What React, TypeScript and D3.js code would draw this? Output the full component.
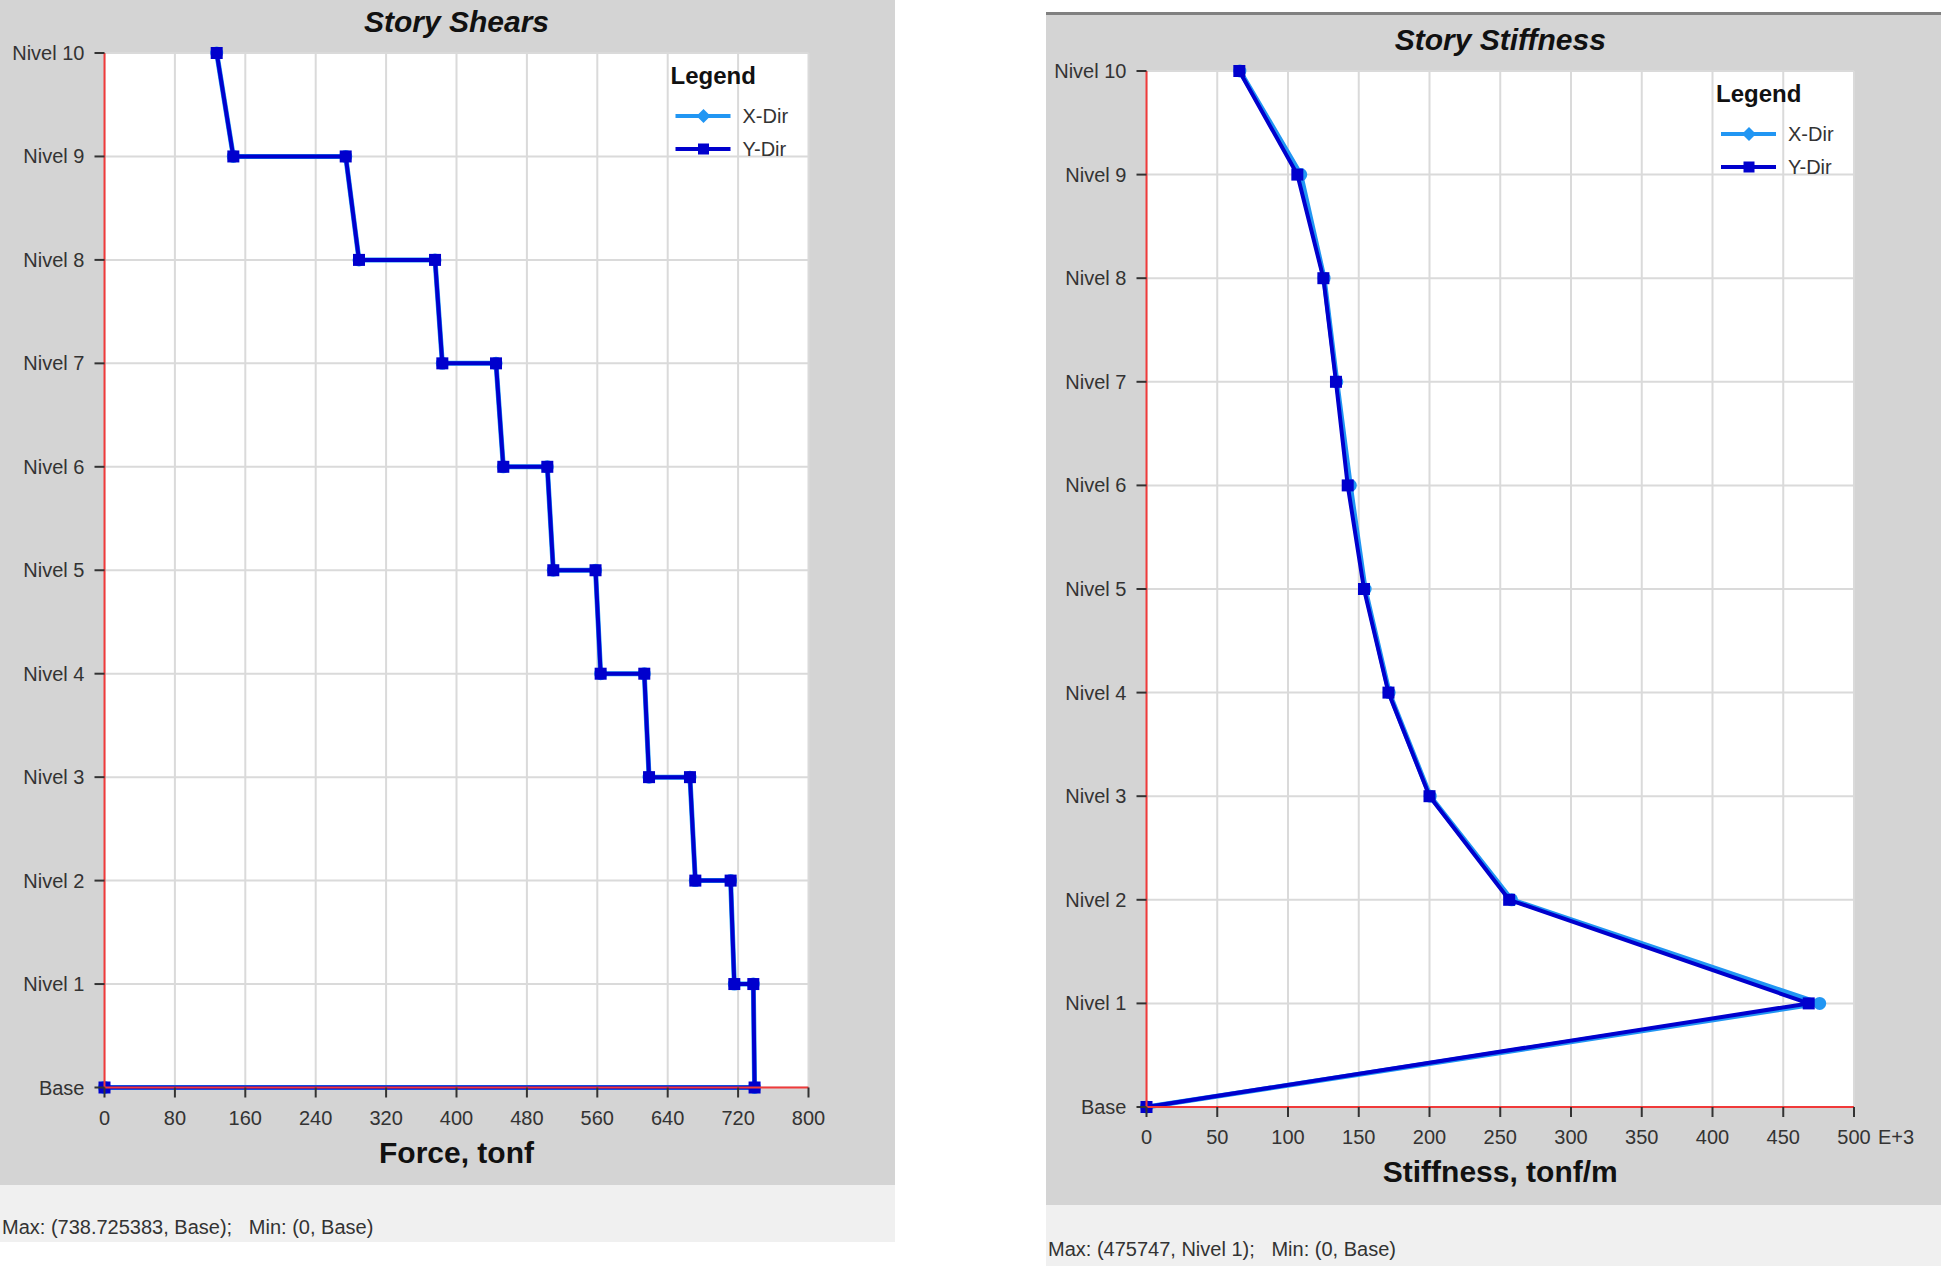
import React from "react";
import * as d3 from "d3";

// ---------- data ----------
const levels = ["Base", "Nivel 1", "Nivel 2", "Nivel 3", "Nivel 4", "Nivel 5", "Nivel 6", "Nivel 7", "Nivel 8", "Nivel 9", "Nivel 10"];

// Story shears: top/bottom of each story (tonf)
const shearPointLevels = [
  "Nivel 10", "Nivel 9", "Nivel 9", "Nivel 8", "Nivel 8", "Nivel 7", "Nivel 7", "Nivel 6", "Nivel 6",
  "Nivel 5", "Nivel 5", "Nivel 4", "Nivel 4", "Nivel 3", "Nivel 3", "Nivel 2", "Nivel 2",
  "Nivel 1", "Nivel 1", "Base", "Base",
];
const shearXDir = [127.5, 146.4, 274.1, 289.2, 375.6, 383.9, 444.9, 453.2, 503.2, 510.0, 558.0, 563.8, 613.4, 618.8, 665.3, 671.4, 711.5, 715.7, 737.3, 738.725, 0];
const shearYDir = [127.5, 146.4, 274.1, 289.2, 375.6, 383.9, 444.9, 453.2, 503.2, 510.0, 558.0, 563.8, 613.4, 618.8, 665.3, 671.4, 711.5, 715.7, 737.3, 738.725, 0];
const shearTicks = [0, 80, 160, 240, 320, 400, 480, 560, 640, 720, 800];

// Story stiffness (E+3 tonf/m)
const stiffPointLevels = ["Nivel 10", "Nivel 9", "Nivel 8", "Nivel 7", "Nivel 6", "Nivel 5", "Nivel 4", "Nivel 3", "Nivel 2", "Nivel 1", "Base"];
const stiffXDir = [66.0, 109.0, 125.5, 134.5, 144.0, 154.5, 171.5, 200.5, 258.0, 475.747, 0];
const stiffYDir = [65.6, 106.6, 125.0, 133.9, 142.2, 153.7, 171.0, 200.0, 256.3, 468.0, 0];
const stiffTicks = [0, 50, 100, 150, 200, 250, 300, 350, 400, 450, 500];

const seriesNames = ["X-Dir", "Y-Dir"];

// ---------- styling ----------
const FONT = "'Liberation Sans', Arial, sans-serif";
const PANEL = "#d4d4d4";
const STATUS = "#f0f0f0";
const GRID = "#dadada";
const RED = "#f03a3a";
const XCOL = "#2196f3";
const YCOL = "#0000cd";
const TXT = "#333";

type PanelProps = {
  px: number; py: number; pw: number; ph: number; border?: boolean;
  statusH: number; statusText: string;
  plot: { left: number; right: number; top: number; bottom: number };
  title: string; xTitle: string; ticks: number[]; domainMax: number; extraTick?: string;
  pointLevels: string[]; xDir: number[]; yDir: number[];
};

function Chart(p: PanelProps) {
  const x = d3.scaleLinear().domain([0, p.domainMax]).range([p.plot.left, p.plot.right]);
  const y = d3.scalePoint<string>().domain(levels).range([p.plot.bottom, p.plot.top]);
  const line = d3.line<[number, string]>().x((d) => x(d[0])).y((d) => y(d[1]) as number);
  const xPts: [number, string][] = p.xDir.map((v, i) => [v, p.pointLevels[i]]);
  const yPts: [number, string][] = p.yDir.map((v, i) => [v, p.pointLevels[i]]);
  const cx = (p.plot.left + p.plot.right) / 2;
  const lx = p.plot.right;
  const ly = p.plot.top;
  return (
    <g>
      <rect x={p.px} y={p.py} width={p.pw} height={p.ph} fill={PANEL} />
      {p.border && <rect x={p.px} y={p.py} width={p.pw} height={3} fill="#808080" />}
      <rect x={p.px} y={p.py + p.ph} width={p.pw} height={p.statusH} fill={STATUS} />
      <text x={p.px + 2} y={p.py + p.ph + p.statusH / 2 + 20} fontSize={20} fill={TXT} fontFamily={FONT} xmlSpace="preserve">{p.statusText}</text>
      <rect x={p.plot.left} y={p.plot.top} width={p.plot.right - p.plot.left} height={p.plot.bottom - p.plot.top} fill="#fff" />
      {p.ticks.map((t) => (
        <line key={"gx" + t} x1={x(t)} x2={x(t)} y1={p.plot.top} y2={p.plot.bottom} stroke={GRID} strokeWidth={2} />
      ))}
      {levels.map((l) => (
        <line key={"gy" + l} x1={p.plot.left} x2={p.plot.right} y1={y(l)} y2={y(l)} stroke={GRID} strokeWidth={2} />
      ))}
      <text x={cx} y={p.plot.top - 21} textAnchor="middle" fontSize={30} fontWeight="bold" fontStyle="italic" fill="#111" fontFamily={FONT}>{p.title}</text>
      {/* legend */}
      <text x={lx - 138} y={ly + 31} fontSize={24} fontWeight="bold" fill="#111" fontFamily={FONT}>Legend</text>
      {seriesNames.map((s, i) => {
        const yy = ly + 63 + i * 33;
        const col = i === 0 ? XCOL : YCOL;
        const mx = lx - 105;
        return (
          <g key={s}>
            <line x1={lx - 133} x2={lx - 78} y1={yy} y2={yy} stroke={col} strokeWidth={4} />
            {i === 0 ? (
              <path d={`M${mx},${yy - 7}L${mx + 7},${yy}L${mx},${yy + 7}L${mx - 7},${yy}Z`} fill={col} />
            ) : (
              <rect x={mx - 5.5} y={yy - 5.5} width={11} height={11} fill={col} />
            )}
            <text x={lx - 66} y={yy + 7} fontSize={20} fill={TXT} fontFamily={FONT}>{s}</text>
          </g>
        );
      })}
      {/* series */}
      <path d={line(xPts) || ""} fill="none" stroke={XCOL} strokeWidth={5} />
      {xPts.map((d, i) => (
        <circle key={"xm" + i} cx={x(d[0])} cy={y(d[1])} r={6.5} fill={XCOL} />
      ))}
      <path d={line(yPts) || ""} fill="none" stroke={YCOL} strokeWidth={4} />
      {yPts.map((d, i) => (
        <rect key={"ym" + i} x={x(d[0]) - 6} y={(y(d[1]) as number) - 6} width={12} height={12} fill={YCOL} />
      ))}
      {/* axes */}
      <line x1={p.plot.left} x2={p.plot.left} y1={p.plot.top} y2={p.plot.bottom} stroke={RED} strokeWidth={2} />
      <line x1={p.plot.left} x2={p.plot.right} y1={p.plot.bottom} y2={p.plot.bottom} stroke={RED} strokeWidth={2} />
      {levels.map((l) => (
        <g key={"yl" + l}>
          <line x1={p.plot.left - 10} x2={p.plot.left} y1={y(l)} y2={y(l)} stroke="#333" strokeWidth={2} />
          <text x={p.plot.left - 20} y={(y(l) as number) + 7} textAnchor="end" fontSize={20} fill={TXT} fontFamily={FONT}>{l}</text>
        </g>
      ))}
      {p.ticks.map((t) => (
        <g key={"xl" + t}>
          <line x1={x(t)} x2={x(t)} y1={p.plot.bottom} y2={p.plot.bottom + 10} stroke="#333" strokeWidth={2} />
          <text x={x(t)} y={p.plot.bottom + 37} textAnchor="middle" fontSize={20} fill={TXT} fontFamily={FONT}>{t}</text>
        </g>
      ))}
      {p.extraTick && (
        <text x={x(p.ticks[p.ticks.length - 1]) + 24} y={p.plot.bottom + 37} fontSize={20} fill={TXT} fontFamily={FONT}>{p.extraTick}</text>
      )}
      <text x={cx} y={p.plot.bottom + 75} textAnchor="middle" fontSize={30} fontWeight="bold" fill="#111" fontFamily={FONT}>{p.xTitle}</text>
    </g>
  );
}

export default function App() {
  return (
    <svg width={1941} height={1266} style={{ position: "absolute", left: 0, top: 0, background: "#fff" }}>
      <Chart
        px={0} py={0} pw={895} ph={1185} statusH={57}
        statusText="Max: (738.725383, Base);   Min: (0, Base)"
        plot={{ left: 104.5, right: 808.5, top: 53, bottom: 1087.5 }}
        title="Story Shears" xTitle="Force, tonf" ticks={shearTicks} domainMax={800}
        pointLevels={shearPointLevels} xDir={shearXDir} yDir={shearYDir}
      />
      <Chart
        px={1046} py={12} pw={895} ph={1193} border statusH={61}
        statusText="Max: (475747, Nivel 1);   Min: (0, Base)"
        plot={{ left: 1146.5, right: 1854, top: 71, bottom: 1107 }}
        title="Story Stiffness" xTitle="Stiffness, tonf/m" ticks={stiffTicks} domainMax={500} extraTick="E+3"
        pointLevels={stiffPointLevels} xDir={stiffXDir} yDir={stiffYDir}
      />
    </svg>
  );
}
